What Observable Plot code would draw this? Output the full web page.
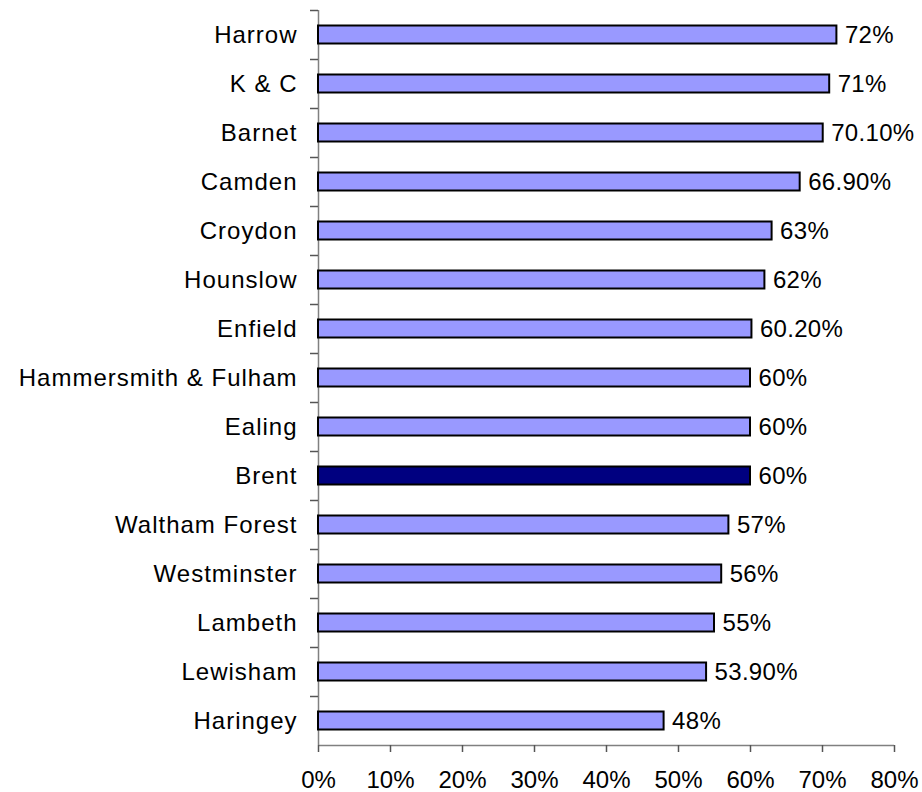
<!DOCTYPE html>
<html><head><meta charset="utf-8">
<script src="https://cdn.jsdelivr.net/npm/d3@7"></script>
<script src="https://cdn.jsdelivr.net/npm/@observablehq/plot@0.6"></script>
<style>
body{margin:0;background:#fff;font-family:"Liberation Sans",Arial,sans-serif}
g[aria-label="y-axis tick label"] text{letter-spacing:1px}
g[aria-label="text"] text{letter-spacing:0.3px}
</style>
</head><body><div id="chart"></div>
<script>
const boroughs = ["Harrow","K & C","Barnet","Camden","Croydon","Hounslow","Enfield","Hammersmith & Fulham","Ealing","Brent","Waltham Forest","Westminster","Lambeth","Lewisham","Haringey"];
const rates = [72,71,70.1,66.9,63,62,60.2,60,60,60,57,56,55,53.9,48];
const highlight = "Brent";
const xTicks = [0,10,20,30,40,50,60,70,80];

const width = 922, height = 792, marginTop = 10, marginBottom = 47, marginLeft = 318, marginRight = 28;
const step = (height - marginTop - marginBottom) / boroughs.length;
const barH = 18;
const inset = (step - barH) / 2;
const data = boroughs.map((b, i) => ({borough: b, rate: rates[i]}));
const fmt = v => Number.isInteger(v) ? `${v}%` : `${v.toFixed(2)}%`;
const axisGray = "#808080";

const chart = Plot.plot({
  width, height, marginTop, marginBottom, marginLeft, marginRight,
  style: {fontFamily: '"Liberation Sans", Arial, sans-serif', color: "black", background: "white"},
  x: {domain: [xTicks[0], xTicks[xTicks.length - 1]], label: null},
  y: {domain: boroughs, padding: 0, label: null},
  color: {type: "identity"},
  marks: [
    Plot.ruleX([0], {stroke: axisGray, strokeWidth: 1.5}),
    Plot.ruleY([boroughs[boroughs.length - 1]], {y: d => d, x1: xTicks[0], x2: xTicks[xTicks.length - 1], dy: step / 2, stroke: axisGray, strokeWidth: 1.5}),
    Plot.ruleY(boroughs, {y: d => d, x1: 0, x2: 0, insetLeft: -8, dy: -step / 2, stroke: "#555", strokeWidth: 1.5}),
    Plot.barX(data, {
      x: "rate", y: "borough",
      fill: d => d.borough === highlight ? "#000080" : "#9999FF",
      stroke: "black", strokeWidth: 2,
      insetTop: inset, insetBottom: inset
    }),
    Plot.text(data, {x: "rate", y: "borough", text: d => fmt(d.rate), textAnchor: "start", dx: 8, fontSize: 24, fill: "black"}),
    Plot.axisY({label: null, tickSize: 0, tickPadding: 21, fontSize: 24, fill: "black"}),
    Plot.axisX(xTicks, {label: null, tickFormat: d => `${d}%`, tickSize: 7, tickPadding: 18, fontSize: 24, stroke: "#555", strokeWidth: 1.5, fill: "black"})
  ]
});
document.getElementById("chart").append(chart);
</script>
</body></html>
